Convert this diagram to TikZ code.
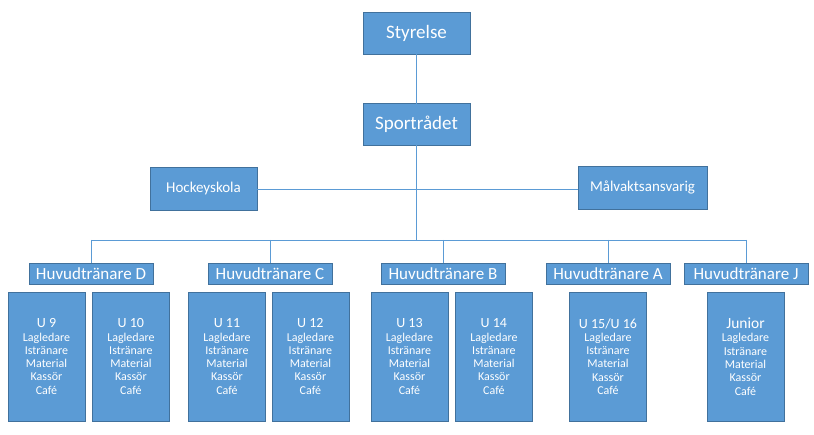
\documentclass[tikz,border=0pt]{standalone}
\usepackage{fontspec}
\setmainfont{Carlito}
\usetikzlibrary{positioning}
\definecolor{boxblue}{HTML}{5B9BD5}
\definecolor{boxedge}{HTML}{41719C}
\definecolor{linkblue}{HTML}{5B9BD5}
\newcommand{\roleList}{Lagledare\\Istränare\\Material\\Kassör\\Café}

\begin{document}
\begin{tikzpicture}[
  x=1pt, y=-1pt,
  node distance=49pt and 7pt,
  topNode/.style={draw=boxedge, fill=boxblue, text=white, minimum width=107pt, minimum height=42pt, font=\fontsize{19}{23}\selectfont},
  sideNode/.style={draw=boxedge, fill=boxblue, text=white, minimum height=43pt, inner xsep=12pt, font=\fontsize{15}{18}\selectfont},
  coachNode/.style={draw=boxedge, fill=boxblue, text=white, minimum width=124pt, minimum height=21pt, inner sep=0pt, font=\fontsize{17}{20}\selectfont},
  teamNode/.style={draw=boxedge, fill=boxblue, text=white, minimum width=77pt, minimum height=129pt, inner sep=0pt, align=center, font=\fontsize{12}{13.3}\selectfont},
  link/.style={draw=linkblue, line width=0.8pt}
]
\useasboundingbox (0,0) rectangle (814,435);

% Board and sports council
\node[topNode] (styrelse) at (416.5,33) {Styrelse};
\node[topNode, below=of styrelse] (sport) {Sportrådet};

% Side functions
\node[sideNode, minimum width=107pt] (hockey) at (203.5,189) {Hockeyskola};
\node[sideNode, minimum width=129pt] (malvakt) at (642.5,187.5) {Målvaktsansvarig};

% Head coaches
\node[coachNode] (coachD) at (91,273.5) {Huvudtränare D};
\node[coachNode] (coachC) at (270,273.5) {Huvudtränare C};
\node[coachNode] (coachB) at (443,273.5) {Huvudtränare B};
\node[coachNode] (coachA) at (608,273.5) {Huvudtränare A};
\node[coachNode] (coachJ) at (746,273.5) {Huvudtränare J};

% Teams
\node[teamNode] (u9) at (46.5,356.5) {{\fontsize{14}{15}\selectfont U 9}\\\roleList};
\node[teamNode, right=of u9] (u10) {{\fontsize{14}{15}\selectfont U 10}\\\roleList};
\node[teamNode] (u11) at (227,356.5) {{\fontsize{14}{15}\selectfont U 11}\\\roleList};
\node[teamNode, right=6pt of u11] (u12) {{\fontsize{14}{15}\selectfont U 12}\\\roleList};
\node[teamNode] (u13) at (409.5,356.5) {{\fontsize{14}{15}\selectfont U 13}\\\roleList};
\node[teamNode, right=of u13] (u14) {{\fontsize{14}{15}\selectfont U 14}\\\roleList};
\node[teamNode] (u15) at (608,356.5) {{\fontsize{14}{15}\selectfont U 15/U 16}\\\roleList};
\node[teamNode] (junior) at (745.5,356.5) {{\fontsize{15.5}{16}\selectfont Junior}\\\roleList};

% Connectors
\coordinate (bus) at (416.5,240);
\draw[link] (styrelse.south) -- (sport.south);
\draw[link] (sport.south) -- (bus);
\draw[link] (hockey.east) -- (hockey.east -| malvakt.west);
\draw[link] (bus -| coachD.north) -- (bus -| coachJ.north);
\draw[link] (bus -| coachD.north) -- (coachD.north);
\draw[link] (bus -| coachC.north) -- (coachC.north);
\draw[link] (bus -| coachB.north) -- (coachB.north);
\draw[link] (bus -| coachA.north) -- (coachA.north);
\draw[link] (bus -| coachJ.north) -- (coachJ.north);

\end{tikzpicture}
\end{document}
